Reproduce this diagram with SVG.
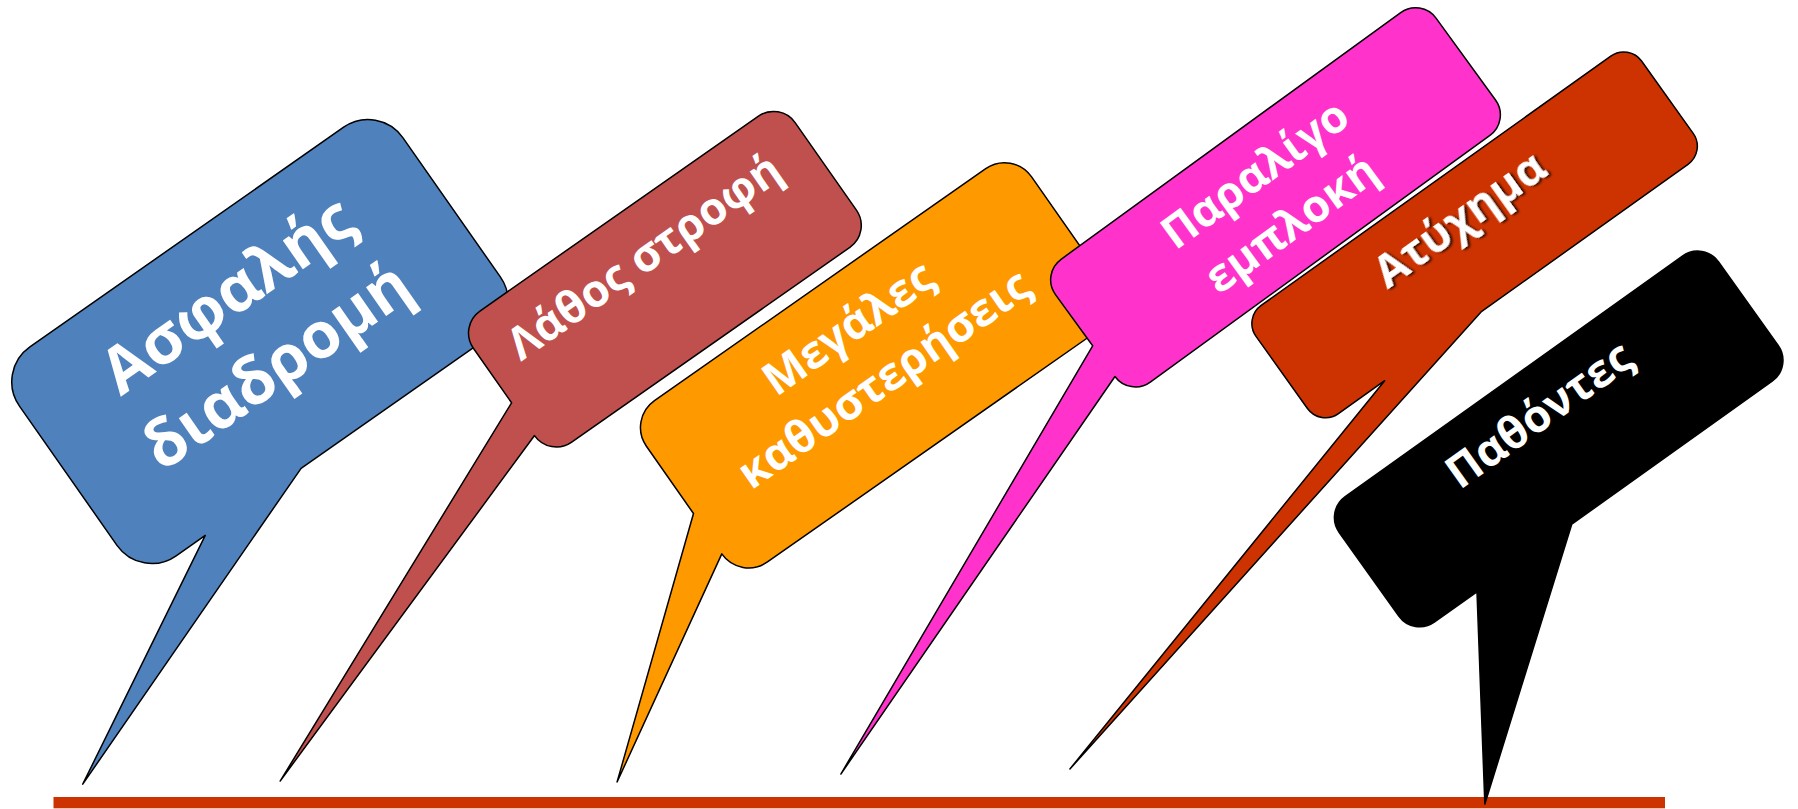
<svg xmlns="http://www.w3.org/2000/svg" width="1798" height="809" viewBox="0 0 1798 809">
<defs>
<style>
.shape{stroke:#000;stroke-width:1.5;stroke-linejoin:round}
.t{font-family:"Open Sans","Noto Sans","DejaVu Sans",sans-serif;font-weight:bold;fill:#fff;text-anchor:middle}
</style>
<filter id="sh" x="-10%" y="-30%" width="130%" height="160%">
<feDropShadow dx="2" dy="2" stdDeviation="1.2" flood-color="#000" flood-opacity="0.75"/>
</filter>
</defs>
<rect id="baseline" x="53.5" y="797" width="1611.5" height="11.3" fill="#CC3300"/>
<g id="connectors"></g>
<g id="n-blue" transform="translate(259.9,341.5) rotate(-35)">
<path class="shape" fill="#4F81BD" d="M -191.5,-127.5 H 191.5 A 42.5 42.5 0 0 1 234,-85 V 85 A 42.5 42.5 0 0 1 191.5,127.5 H -39 L -399,261 L -156,127.5 H -191.5 A 42.5 42.5 0 0 1 -234,85 V -85 A 42.5 42.5 0 0 1 -191.5,-127.5 Z"/>
<text class="t" font-size="64"><tspan x="0" y="-34.6">Ασφαλής</tspan><tspan x="0" y="51.4">διαδρομή</tspan></text>
</g>
<g id="n-red" transform="translate(664.9,279.2) rotate(-35)">
<path class="shape" fill="#C0504D" d="M -169.8,-80 H 169.8 A 26.7 26.7 0 0 1 196.5,-53.3 V 53.3 A 26.7 26.7 0 0 1 169.8,80 H -169.8 A 26.7 26.7 0 0 1 -196.5,53.3 L -603,190.4 L -196.5,13.3 V -53.3 A 26.7 26.7 0 0 1 -169.8,-80 Z"/>
<text class="t" font-size="45" x="-4" y="-15">Λάθος στροφή</text>
</g>
<g id="n-orange" transform="translate(876.6,365.3) rotate(-35)">
<path class="shape" fill="#FF9900" d="M -202.2,-98.5 H 202.2 A 32.8 32.8 0 0 1 235,-65.7 V 65.7 A 32.8 32.8 0 0 1 202.2,98.5 H -202.2 A 32.8 32.8 0 0 1 -235,65.7 L -451.6,192.5 L -235,16.4 V -65.7 A 32.8 32.8 0 0 1 -202.2,-98.5 Z"/>
<text class="t" font-size="45"><tspan x="-2" y="-31.5">Μεγάλες</tspan><tspan x="-2" y="30.7">καθυστερήσεις</tspan></text>
</g>
<g id="n-pink" transform="translate(1275.5,197.3) rotate(-36)">
<path class="shape" fill="#FF33CC" d="M -209.9,-75.9 H 209.9 A 25.3 25.3 0 0 1 235.2,-50.6 V 50.6 A 25.3 25.3 0 0 1 209.9,75.9 H -209.9 A 25.3 25.3 0 0 1 -235.2,50.6 L -690.6,211.1 L -235.2,12.65 V -50.6 A 25.3 25.3 0 0 1 -209.9,-75.9 Z"/>
<text class="t" font-size="45"><tspan x="-3" y="-15.4">Παραλίγο</tspan><tspan x="-3" y="46">εμπλοκή</tspan></text>
</g>
<g id="n-darkorange" transform="translate(1474.6,234.9) rotate(-35.5)">
<path class="shape" fill="#CC3300" d="M -214.7,-66.5 H 214.7 A 22.2 22.2 0 0 1 236.9,-44.3 V 44.3 A 22.2 22.2 0 0 1 214.7,66.5 H -39.5 L -639.6,199.8 L -157.9,66.5 H -214.7 A 22.2 22.2 0 0 1 -236.9,44.3 V -44.3 A 22.2 22.2 0 0 1 -214.7,-66.5 Z"/>
<text class="t" font-size="45" x="-3" y="-6" filter="url(#sh)">Ατύχημα</text>
</g>
<g id="n-black" transform="translate(1558.7,438.9) rotate(-35.5)">
<path class="shape" fill="#000000" d="M -207.3,-77 H 207.3 A 25.7 25.7 0 0 1 233,-51.3 V 51.3 A 25.7 25.7 0 0 1 207.3,77 H -38.8 L -272.1,254.3 L -155.3,77 H -207.3 A 25.7 25.7 0 0 1 -233,51.3 V -51.3 A 25.7 25.7 0 0 1 -207.3,-77 Z"/>
<text class="t" font-size="45" x="-2" y="-15.8">Παθόντες</text>
</g>
</svg>
